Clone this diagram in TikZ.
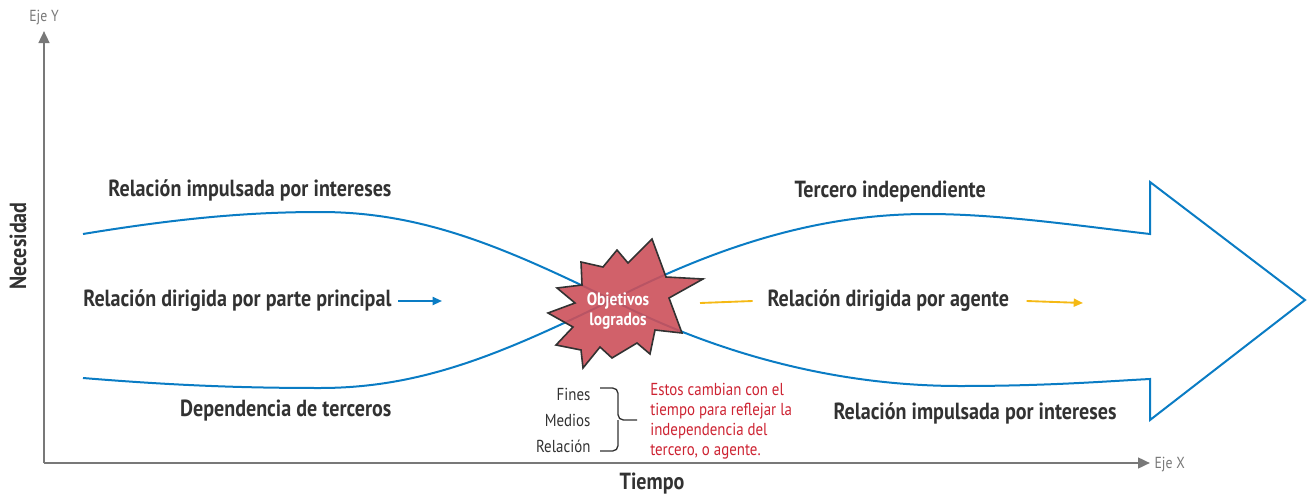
\documentclass[tikz,border=0pt]{standalone}
\usepackage{fontspec}
\setmainfont{PT Sans}[FakeStretch=0.86]
\usetikzlibrary{arrows.meta}

\definecolor{flujo}{RGB}{10,124,196}
\definecolor{agente}{RGB}{245,185,20}
\definecolor{estrella}{RGB}{204,80,90}
\definecolor{nota}{RGB}{205,35,50}
\definecolor{texto}{RGB}{50,50,50}
\definecolor{eje}{RGB}{120,120,120}

\def\tipo{\bfseries\fontsize{17.5}{19}\selectfont}

\begin{document}
\begin{tikzpicture}[x=0.75pt,y=-0.75pt,line join=miter]
    \tikzstyle{axis}=[draw=eje,line width=1.8pt,-{Triangle[length=9pt,width=8pt]}]
    \tikzstyle{axis label}=[text=eje,font=\fontsize{12}{14}\selectfont,inner sep=1pt]
    \tikzstyle{phase}=[text=texto,font=\tipo,inner sep=1pt]
    \tikzstyle{item}=[text=texto,font=\fontsize{13}{15}\selectfont,anchor=east,inner sep=1pt]
    \tikzstyle{band}=[draw=flujo,line width=1.5pt]
    \tikzstyle{hint}=[line width=1.4pt]

    \useasboundingbox (0,0) rectangle (1313,496);

    % Draw the axes
    \coordinate (O) at (44,463);
    \coordinate (Y) at (44,31);
    \coordinate (X) at (1150,463);
    \draw[axis] (O) -- (Y);
    \draw[axis] (O) -- (X);
    \node[axis label] (ejey) at (44,18) {Eje Y};
    \node[axis label,anchor=west] (ejex) at (1153,465) {Eje X};
    \node[phase,rotate=90] (necesidad) at (18,246) {Necesidad};
    \node[phase] (tiempo) at (652,484) {Tiempo};

    % Draw the big arrow made of two crossing curves
    \coordinate (C) at (612,300);
    \draw[band] (83,234) .. controls (180,218) and (250,212) .. (320,212)
        .. controls (420,212) and (500,245) .. (C)
        .. controls (700,345) and (820,386) .. (960,386)
        .. controls (1050,386) and (1110,381) .. (1150,379)
        -- (1150,420) -- (1305,300) -- (1150,182) -- (1150,234)
        .. controls (1080,226) and (1000,214) .. (927,214)
        .. controls (820,214) and (720,245) .. (C)
        .. controls (500,355) and (420,388) .. (320,388)
        .. controls (250,388) and (180,386) .. (83,378);

    % Draw the star
    \filldraw[fill=estrella,fill opacity=0.9,draw=texto,line width=1.2pt]
        (652,239) -- (666,277) -- (703,279) -- (669,298) -- (682,333)
        -- (655,330) -- (650,354) -- (637,343) -- (612,358) -- (600,347)
        -- (583,368) -- (581,350) -- (556,345) -- (573,327) -- (548,313)
        -- (575,303) -- (557,288) -- (582,285) -- (581,262) -- (603,267)
        -- (617,250) -- (628,263) -- cycle;
    \node[text=white,font=\bfseries\fontsize{13.5}{15}\selectfont,align=center,inner sep=0pt] (logro) at (618,311) {Objetivos\\logrados};

    % Label the phases
    \node[phase,anchor=east] (interes-a) at (393,190) {Relación impulsada por intereses};
    \node[phase,anchor=east] (principal) at (393,301) {Relación dirigida por parte principal};
    \node[phase,anchor=east] (terceros) at (393,411) {Dependencia de terceros};
    \node[phase,anchor=west] (tercero) at (793,192) {Tercero independiente};
    \node[phase,anchor=west] (agente) at (766,301) {Relación dirigida por agente};
    \node[phase,anchor=west] (interes-b) at (832,413) {Relación impulsada por intereses};

    % Direction hints
    \coordinate (p-end) at (442,301);
    \coordinate (a-start) at (700,303);
    \coordinate (a-end) at (1083,303);
    \draw[hint,draw=flujo,-{Triangle[length=7pt,width=6pt]}] (principal.east) ++(5,0) -- (p-end);
    \draw[hint,draw=agente] (a-start) -- ([xshift=-10pt]agente.west);
    \draw[hint,draw=agente,-{Triangle[length=7pt,width=6pt]}] ([xshift=12pt]agente.east) -- (a-end);

    % What changes over time
    \node[item] (fines) at (592,394) {Fines};
    \node[item] (medios) at (592,420) {Medios};
    \node[item] (relacion) at (592,446) {Relación};
    \coordinate (b-top) at (600,388);
    \coordinate (b-bot) at (600,451);
    \coordinate (b-tip) at (637,420);
    \draw[texto,line width=1pt,rounded corners=4pt] (b-top) -| (618,420) -- (b-tip);
    \draw[texto,line width=1pt,rounded corners=4pt] (b-bot) -| (618,420);
    \node[text=nota,font=\fontsize{13}{15}\selectfont,align=left,anchor=north west,inner sep=0pt] (cambio) at (650,383)
        {Estos cambian con el\\tiempo para reflejar la\\independencia del\\tercero, o agente.};
\end{tikzpicture}
\end{document}
